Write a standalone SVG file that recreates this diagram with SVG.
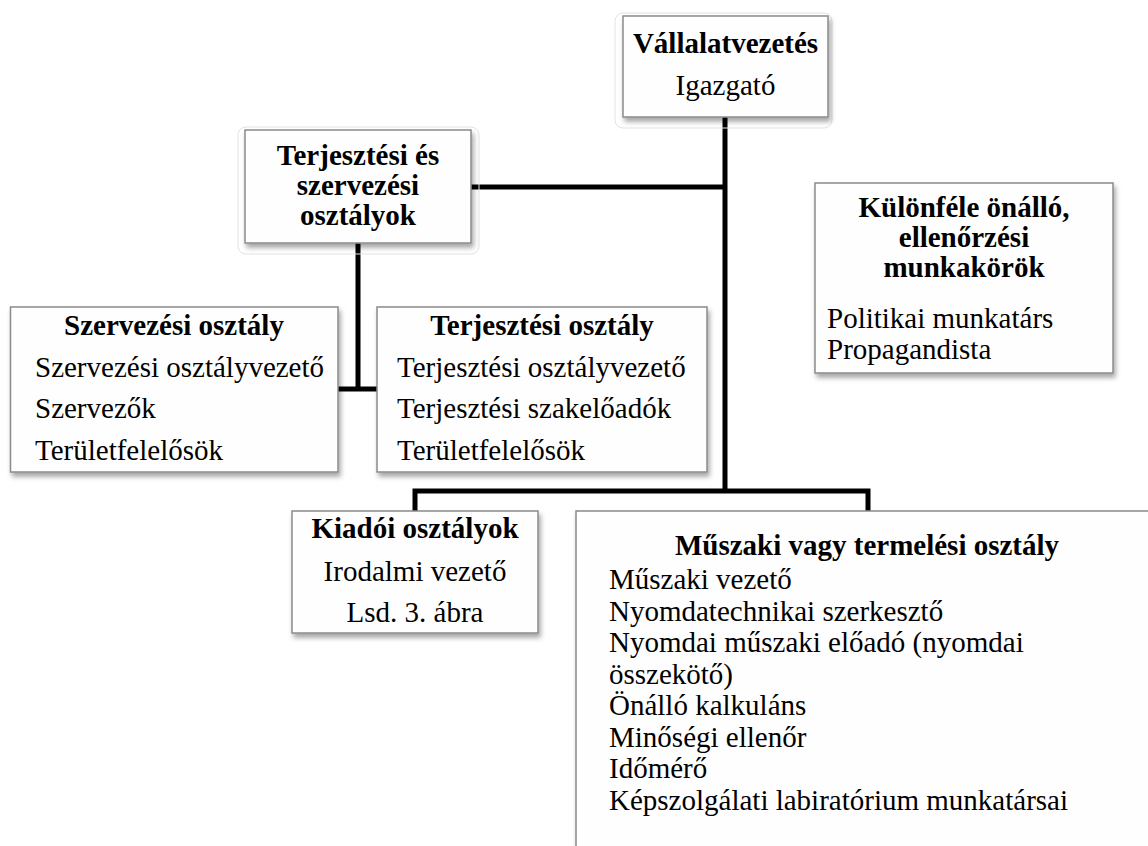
<svg xmlns="http://www.w3.org/2000/svg" width="1148" height="846" viewBox="0 0 1148 846">
<defs>
<filter id="sh" x="-10%" y="-10%" width="125%" height="130%">
<feDropShadow dx="2" dy="4" stdDeviation="2.5" flood-color="#000" flood-opacity="0.35"/>
</filter>
</defs>
<style>
.box{fill:#fefefe;stroke:#8a8a8a;stroke-width:1.5;filter:url(#sh)}
.halo{fill:none;stroke:#e2e2e2;stroke-width:1}
.t{font-family:"Liberation Serif","Times New Roman",serif;font-size:29px;fill:#000}
.b{font-weight:bold}
.c{text-anchor:middle}
.conn{fill:none;stroke:#000;stroke-width:5}
</style>
<rect width="1148" height="846" fill="#fff"/>
<g id="connectors">
<line class="conn" x1="725" y1="117" x2="725" y2="493"/>
<line class="conn" x1="471" y1="187" x2="725" y2="187"/>
<line class="conn" x1="358" y1="243" x2="358" y2="391"/>
<line class="conn" x1="338" y1="389" x2="377" y2="389"/>
<polyline class="conn" points="415,511 415,491 868,491 868,511"/>
</g>
<g id="n-vallalatvezetes">
<rect class="halo" x="615" y="13" width="217" height="115" rx="8"/>
<rect class="box" x="623" y="16" width="205" height="101"/>
<text class="t b c" x="725.5" y="53">Vállalatvezetés</text>
<text class="t c" x="725.5" y="95">Igazgató</text>
</g>
<g id="n-terj-szerv">
<rect class="halo" x="238" y="127" width="241" height="127" rx="8"/>
<rect class="box" x="245" y="130" width="226" height="113"/>
<text class="t b c" x="358" y="165">Terjesztési és</text>
<text class="t b c" x="358" y="195">szervezési</text>
<text class="t b c" x="358" y="225">osztályok</text>
</g>
<g id="n-szervezesi">
<rect class="box" x="10.5" y="307" width="327.5" height="165"/>
<text class="t b c" x="174" y="335">Szervezési osztály</text>
<text class="t" x="35" y="377">Szervezési osztályvezető</text>
<text class="t" x="35" y="418">Szervezők</text>
<text class="t" x="35" y="460">Területfelelősök</text>
</g>
<g id="n-terjesztesi">
<rect class="box" x="377" y="307" width="330" height="165"/>
<text class="t b c" x="542" y="335">Terjesztési osztály</text>
<text class="t" x="397" y="377">Terjesztési osztályvezető</text>
<text class="t" x="397" y="418">Terjesztési szakelőadók</text>
<text class="t" x="397" y="460">Területfelelősök</text>
</g>
<g id="n-kulonfele">
<rect class="box" x="815" y="183" width="298" height="190"/>
<text class="t b c" x="964" y="217">Különféle önálló,</text>
<text class="t b c" x="964" y="247">ellenőrzési</text>
<text class="t b c" x="964" y="277">munkakörök</text>
<text class="t" x="827" y="328">Politikai munkatárs</text>
<text class="t" x="827" y="359">Propagandista</text>
</g>
<g id="n-kiadoi">
<rect class="box" x="292" y="511" width="246" height="122"/>
<text class="t b c" x="415" y="538">Kiadói osztályok</text>
<text class="t c" x="415" y="581">Irodalmi vezető</text>
<text class="t c" x="415" y="622">Lsd. 3. ábra</text>
</g>
<g id="n-muszaki">
<rect class="box" x="576" y="511" width="600" height="400"/>
<text class="t b c" x="867" y="555">Műszaki vagy termelési osztály</text>
<text class="t" x="609" y="589">Műszaki vezető</text>
<text class="t" x="609" y="620.5">Nyomdatechnikai szerkesztő</text>
<text class="t" x="609" y="652">Nyomdai műszaki előadó (nyomdai</text>
<text class="t" x="609" y="683.5">összekötő)</text>
<text class="t" x="609" y="715">Önálló kalkuláns</text>
<text class="t" x="609" y="746.5">Minőségi ellenőr</text>
<text class="t" x="609" y="778">Időmérő</text>
<text class="t" x="609" y="809.5">Képszolgálati labiratórium munkatársai</text>
</g>
</svg>
